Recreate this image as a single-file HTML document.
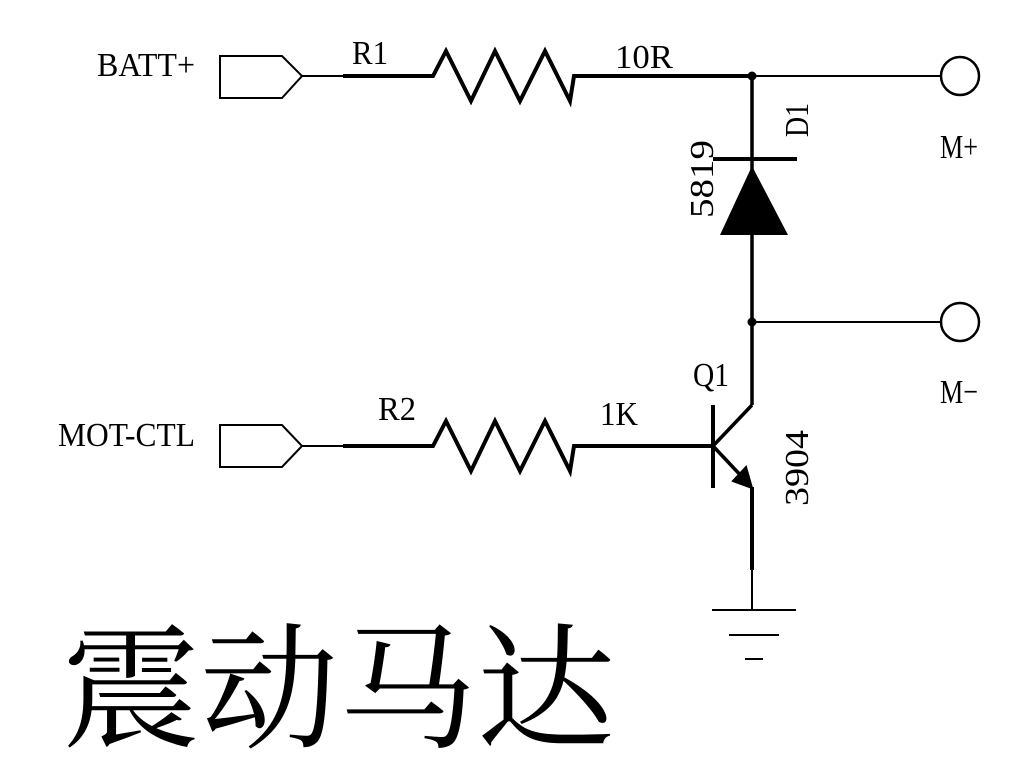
<!DOCTYPE html>
<html><head><meta charset="utf-8"><style>html,body{margin:0;padding:0;background:#fff}svg{display:block}</style></head><body>
<svg width="1015" height="774" viewBox="0 0 1015 774" xmlns="http://www.w3.org/2000/svg">
<g fill="none" stroke="#000" stroke-linejoin="miter">
<!-- top connector -->
<path d="M220,56 H282 L302,76 L282,98 H220 Z" stroke-width="2"/>
<line x1="302" y1="76" x2="343" y2="76" stroke-width="2"/>
<polyline points="343,76 433,76 446,51 471,101 495,51 520,101 545,51 570,101 574,76 752,76" stroke-width="4"/>
<line x1="752" y1="76" x2="940" y2="76" stroke-width="2"/>
<circle cx="960" cy="76" r="19" stroke-width="2.5"/>
<line x1="752" y1="76" x2="752" y2="405" stroke-width="3.5"/>
<line x1="713" y1="159" x2="797" y2="159" stroke-width="4"/>
<line x1="752" y1="322" x2="940" y2="322" stroke-width="2"/>
<circle cx="960" cy="322" r="19" stroke-width="2.5"/>
<!-- bottom connector -->
<path d="M220,425 H282 L302,446 L282,467 H220 Z" stroke-width="2"/>
<line x1="302" y1="446" x2="343" y2="446" stroke-width="2"/>
<polyline points="343,446 433,446 446,421 471,471 495,421 520,471 545,421 570,471 574,446 713,446" stroke-width="4"/>
<!-- transistor -->
<line x1="713" y1="405" x2="713" y2="488" stroke-width="4"/>
<line x1="713" y1="446" x2="752" y2="405" stroke-width="3.5"/>
<line x1="713" y1="446" x2="745" y2="480" stroke-width="3.5"/>
<line x1="752" y1="487" x2="752" y2="570" stroke-width="4"/>
<line x1="752" y1="570" x2="752" y2="610" stroke-width="2"/>
<line x1="712" y1="610" x2="796" y2="610" stroke-width="2"/>
<line x1="729" y1="635" x2="779" y2="635" stroke-width="2"/>
<line x1="745" y1="659" x2="763" y2="659" stroke-width="2"/>
</g>
<polygon points="720,235 788,235 752,166" fill="#000"/>
<polygon points="733,481 752,488 746,467" fill="#000" stroke="#000" stroke-width="2"/>
<circle cx="752" cy="76" r="4.5" fill="#000"/>
<circle cx="752" cy="322" r="4.5" fill="#000"/>
<g font-family="Liberation Serif, serif" font-size="34" fill="#000">
<text x="97" y="76" textLength="98" lengthAdjust="spacingAndGlyphs">BATT+</text>
<text x="352" y="64" textLength="36" lengthAdjust="spacingAndGlyphs">R1</text>
<text x="615" y="68" textLength="58" lengthAdjust="spacingAndGlyphs">10R</text>
<text x="940" y="158" textLength="38" lengthAdjust="spacingAndGlyphs">M+</text>
<text x="940" y="403" textLength="38" lengthAdjust="spacingAndGlyphs">M−</text>
<text x="693" y="386" textLength="36" lengthAdjust="spacingAndGlyphs">Q1</text>
<text x="378" y="420" textLength="38" lengthAdjust="spacingAndGlyphs">R2</text>
<text x="600" y="425" textLength="38" lengthAdjust="spacingAndGlyphs">1K</text>
<text x="58" y="446" textLength="137" lengthAdjust="spacingAndGlyphs">MOT-CTL</text>
<text transform="translate(808,137) rotate(-90)" textLength="34" lengthAdjust="spacingAndGlyphs">D1</text>
<text transform="translate(713,218) rotate(-90)" textLength="78" lengthAdjust="spacingAndGlyphs">5819</text>
<text transform="translate(808,506) rotate(-90)" textLength="76" lengthAdjust="spacingAndGlyphs">3904</text>
</g>
<text x="62" y="737" font-family="Liberation Serif, 'Noto Serif CJK SC', serif" font-size="136" textLength="553" lengthAdjust="spacingAndGlyphs" fill="#000">震动马达</text>
</svg>
</body></html>
